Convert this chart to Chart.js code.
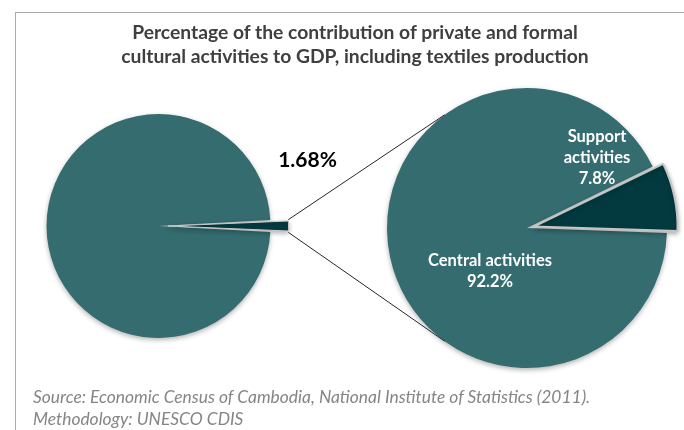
<!DOCTYPE html>
<html>
<head>
<meta charset="utf-8">
<title>Cultural activities share of GDP</title>
<script src="https://cdn.jsdelivr.net/npm/chart.js@4"></script>
<style>
  body { margin: 0; background: #fff; }
  #wrap { position: relative; width: 684px; height: 430px; overflow: hidden; font-family: Lato, "Open Sans", sans-serif; }
  #frame { position: absolute; left: 15px; top: 12px; width: 720px; height: 460px; border: 1.5px solid #ababab; box-sizing: border-box; }
  canvas { position: absolute; left: 0; top: 0; }
  #title { position: absolute; left: 28px; width: 654px; top: 20px; text-align: center; font-weight: 700; font-size: 19.3px; line-height: 24px; color: #3f3f3f; }
  #source { position: absolute; left: 33px; top: 386px; font-style: italic; font-size: 17.4px; line-height: 22px; color: #858585; }
</style>
</head>
<body>
<div id="wrap">
  <div id="frame"></div>
  <canvas id="gdpPie" width="684" height="430"></canvas>
  <canvas id="culturePie" width="684" height="430"></canvas>
  <div id="title">Percentage of the contribution of private and formal<br>cultural activities to GDP, including textiles production</div>
  <div id="source">Source: Economic Census of Cambodia, National Institute of Statistics (2011).<br>Methodology: UNESCO CDIS</div>
</div>
<script>
// share of GDP
const gdpLabels = ['Rest of GDP', 'Cultural activities'];
const gdpShares = [98.32, 1.68];

// breakdown of the cultural share
const cultureLabels = ['Central activities', 'Support activities'];
const cultureShares = [92.2, 7.8];

const teal = '#346c70';
const darkTeal = '#033a40';
const FONT = 'Lato, "Open Sans", sans-serif';

// soft drop shadow under the pies
const shadowPlugin = {
  id: 'pieShadow',
  beforeDatasetsDraw(chart) {
    const ctx = chart.ctx;
    ctx.save();
    ctx.shadowColor = 'rgba(0,0,0,0.30)';
    ctx.shadowBlur = 5;
    ctx.shadowOffsetY = 2;
  },
  afterDatasetsDraw(chart) {
    chart.ctx.restore();
  }
};

// outer corners of an exploded slice, same maths as ArcElement.draw
function sliceCorners(arc) {
  const off = (arc.options.offset || 0) / 4;
  const circ = arc.endAngle - arc.startAngle;
  const fix = 1 - Math.sin(Math.min(Math.PI, circ));
  const r = arc.outerRadius + off * fix;
  const mid = (arc.startAngle + arc.endAngle) / 2;
  const cx = arc.x + Math.cos(mid) * off;
  const cy = arc.y + Math.sin(mid) * off;
  return [arc.startAngle, arc.endAngle].map(a => ({ x: cx + Math.cos(a) * r, y: cy + Math.sin(a) * r }));
}

const gdpLabelPlugin = {
  id: 'gdpLabel',
  afterDatasetsDraw(chart) {
    const arc = chart.getDatasetMeta(0).data[1];
    const ctx = chart.ctx;
    ctx.save();
    ctx.font = 'bold 21px ' + FONT;
    ctx.fillStyle = '#000';
    ctx.textAlign = 'center';
    ctx.textBaseline = 'middle';
    ctx.fillText(gdpShares[1] + '%', arc.x + 149, arc.y - 66);
    ctx.restore();
  }
};

const gdpChart = new Chart(document.getElementById('gdpPie'), {
  type: 'pie',
  data: {
    labels: gdpLabels,
    datasets: [{
      data: gdpShares,
      backgroundColor: [teal, darkTeal],
      borderColor: ['rgba(0,0,0,0)', '#c9c9c9'],
      borderWidth: [0, 1],
      offset: [0, 38],
      hoverOffset: 0
    }]
  },
  options: {
    responsive: false,
    animation: false,
    events: [],
    rotation: 90 + gdpShares[1] * 1.8,
    layout: { padding: { left: 27, top: 94.5, right: 394, bottom: 72.5 } },
    plugins: { legend: { display: false }, tooltip: { enabled: false } }
  },
  plugins: [shadowPlugin, gdpLabelPlugin]
});

// where each slice label sits, relative to the pie centre
const labelPlaces = [
  { dx: -37, dy: 43, wrap: false },
  { dx: 70, dy: -70, wrap: true }
];

const cultureLabelPlugin = {
  id: 'cultureLabels',
  afterDatasetsDraw(chart) {
    const ctx = chart.ctx;
    const arcs = chart.getDatasetMeta(0).data;
    ctx.save();
    ctx.font = 'bold 16.5px ' + FONT;
    ctx.fillStyle = '#fff';
    ctx.textAlign = 'center';
    ctx.textBaseline = 'middle';
    cultureLabels.forEach((name, i) => {
      const place = labelPlaces[i];
      const lines = (place.wrap ? name.split(' ') : [name]).concat(cultureShares[i] + '%');
      const lh = 21;
      const top = arcs[0].y + place.dy - (lines.length - 1) * lh / 2;
      lines.forEach((t, k) => ctx.fillText(t, arcs[0].x + place.dx, top + k * lh));
    });
    ctx.restore();
  },
  // lines joining the small slice to the breakdown pie
  afterDraw(chart) {
    const ctx = chart.ctx;
    const src = sliceCorners(gdpChart.getDatasetMeta(0).data[1]);
    const pie = chart.getDatasetMeta(0).data[0];
    const reach = 126 * Math.PI / 180;
    const ends = [-reach, reach].map(a => ({
      x: pie.x + Math.cos(a) * pie.outerRadius,
      y: pie.y + Math.sin(a) * pie.outerRadius
    }));
    ctx.save();
    ctx.strokeStyle = '#262626';
    ctx.lineWidth = 1;
    ctx.beginPath();
    ctx.moveTo(src[0].x, src[0].y);
    ctx.lineTo(ends[0].x, ends[0].y);
    ctx.moveTo(src[1].x, src[1].y);
    ctx.lineTo(ends[1].x, ends[1].y);
    ctx.stroke();
    ctx.restore();
  }
};

new Chart(document.getElementById('culturePie'), {
  type: 'pie',
  data: {
    labels: cultureLabels,
    datasets: [{
      data: cultureShares,
      backgroundColor: [teal, darkTeal],
      borderColor: ['rgba(0,0,0,0)', '#c4c4c4'],
      borderWidth: [0, 2],
      offset: [0, 28],
      hoverOffset: 0
    }]
  },
  options: {
    responsive: false,
    animation: false,
    events: [],
    rotation: 92,
    layout: { padding: { left: 372, top: 73, right: 2, bottom: 47 } },
    plugins: { legend: { display: false }, tooltip: { enabled: false } }
  },
  plugins: [shadowPlugin, cultureLabelPlugin]
});
</script>
</body>
</html>
